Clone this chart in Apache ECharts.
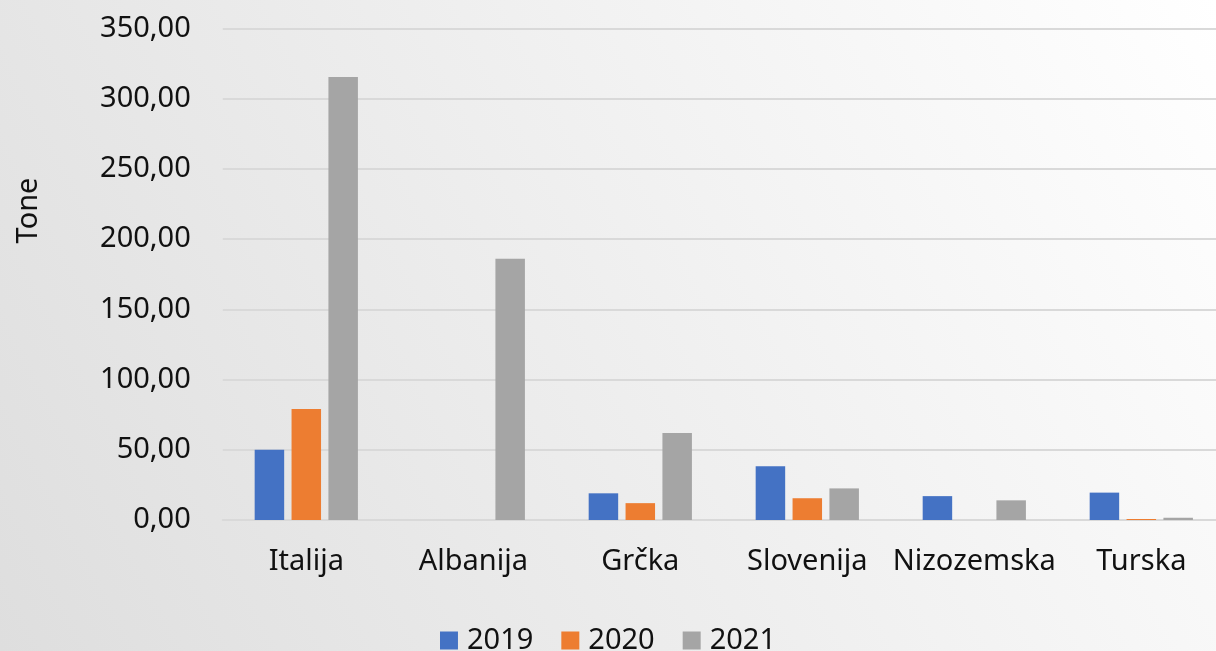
<!DOCTYPE html>
<html>
<head>
<meta charset="utf-8">
<script src="https://cdn.jsdelivr.net/npm/echarts@6/dist/echarts.min.js"></script>
<style>
html,body{margin:0;padding:0;}
#c{width:1216px;height:651px;}
</style>
</head>
<body>
<div id="c"></div>
<script>
var categories = ['Italija', 'Albanija', 'Grčka', 'Slovenija', 'Nizozemska', 'Turska'];
var seriesNames = ['2019', '2020', '2021'];
var values2019 = [50, 0, 19, 38.3, 17, 19.5];
var values2020 = [79, 0, 12, 15.5, 0, 0.7];
var values2021 = [315.5, 186, 62, 22.5, 14, 1.6];
var yTickLabels = ['0,00', '50,00', '100,00', '150,00', '200,00', '250,00', '300,00', '350,00'];
var colors = ['#4472c4', '#ed7d31', '#a5a5a5'];

var font = 'Noto Sans';
var fs = 29;
var chart = echarts.init(document.getElementById('c'));
var allValues = [values2019, values2020, values2021];
chart.setOption({
  backgroundColor: new echarts.graphic.LinearGradient(0, 1, 1, 0, [
    {offset: 0, color: '#dedede'},
    {offset: 1, color: '#ffffff'}
  ]),
  animation: false,
  textStyle: {fontFamily: font},
  grid: {left: 222.8, width: 1002, top: 28.5, bottom: 131, outerBoundsMode: 'none', containLabel: false},
  legend: {
    data: seriesNames,
    left: 'center',
    top: 621,
    itemWidth: 18,
    itemHeight: 18,
    itemGap: 28,
    icon: 'rect',
    textStyle: {fontSize: fs, color: '#111', fontFamily: font, padding: [0, 0, 0, 4]}
  },
  graphic: [{
    type: 'text',
    x: 29,
    y: 210.5,
    rotation: Math.PI / 2,
    style: {text: 'Tone', fontSize: fs, fontFamily: font, fill: '#111', align: 'center', verticalAlign: 'middle'}
  }],
  xAxis: {
    type: 'category',
    data: categories,
    axisLine: {lineStyle: {color: '#d9d9d9', width: 2}},
    axisTick: {show: false},
    axisLabel: {fontSize: fs, color: '#111', margin: 27, fontFamily: font, interval: 0}
  },
  yAxis: {
    type: 'value',
    min: 0,
    max: 350,
    interval: 50,
    axisLine: {show: false},
    axisTick: {show: false},
    splitLine: {lineStyle: {color: '#d9d9d9', width: 2}},
    axisLabel: {
      fontSize: fs, color: '#111', margin: 32, fontFamily: font,
      formatter: function (v) { return yTickLabels[Math.round(v / 50)]; }
    }
  },
  series: seriesNames.map(function (n, i) {
    return {
      name: n,
      type: 'bar',
      data: allValues[i],
      barWidth: 29.5,
      barGap: '25%',
      itemStyle: {color: colors[i]}
    };
  })
});
</script>
</body>
</html>
